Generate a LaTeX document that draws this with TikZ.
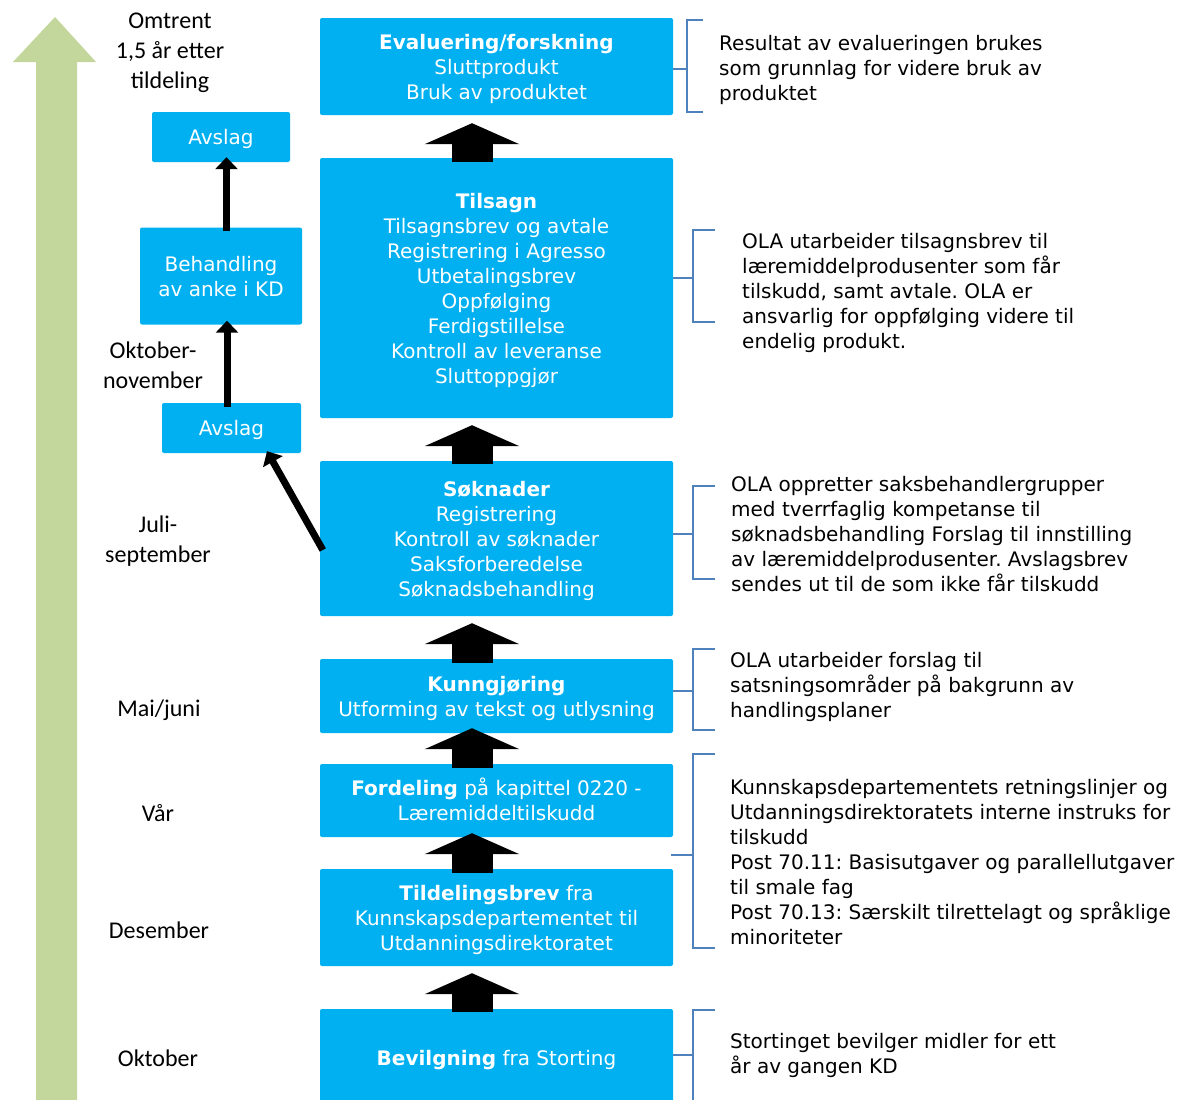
\documentclass[tikz,border=0pt]{standalone}
\usepackage{fontspec}
\setmainfont{DejaVu Sans}
\newfontfamily\calfont{Carlito}
\usetikzlibrary{arrows.meta}
\definecolor{boxblue}{HTML}{00B0F0}
\definecolor{armgreen}{HTML}{C3D69B}
\definecolor{brk}{HTML}{4F81BD}
\newcommand\tstrut{\rule{0pt}{22.5pt}}
\newcommand\bstrut{\rule[-7.5pt]{0pt}{7.5pt}}
\frenchspacing
\begin{document}
\begin{tikzpicture}[x=1pt,y=-1pt,
  bx/.style={fill=boxblue, text=white, rounded corners=2pt, inner sep=0pt, align=center,
    font=\fontsize{20}{25}\selectfont},
  mainbox/.style={bx, minimum width=353pt},
  rtext/.style={anchor=north west, align=left, inner sep=0pt, text=black, yshift=-4.5pt,
    font=\fontsize{20}{25}\selectfont, execute at begin node=\strut, execute at end node=\strut},
  ltext/.style={align=center, inner sep=0pt, text=black, yshift=-4.5pt,
    font=\calfont\fontsize{24}{30}\selectfont, execute at begin node=\strut, execute at end node=\strut},
  blockarrow/.style={draw=black, line width=41pt, -{Triangle[width=94pt,length=21pt]}},
  thinarrow/.style={draw=black, line width=7pt, -{Triangle[width=22pt,length=12pt]}},
  brack/.style={draw=brk, line width=1.3pt},
]
\useasboundingbox (0,0) rectangle (1189,1100);
\fill[white] (0,0) rectangle (1189,1100);

% green time arrow
\fill[armgreen] (36,1110) -- (36,62) -- (13,62) -- (55,17) -- (96,62) -- (77,62) -- (77,1110) -- cycle;

% main boxes
\node[mainbox, minimum height=97pt] (eva) at (496.5,66.5) {\tstrut\textbf{Evaluering/forskning}\\Sluttprodukt\\Bruk av produktet\bstrut};
\node[mainbox, minimum height=260pt] (tils) at (496.5,288) {\tstrut\textbf{Tilsagn}\\Tilsagnsbrev og avtale\\Registrering i Agresso\\Utbetalingsbrev\\Oppfølging\\Ferdigstillelse\\Kontroll av leveranse\\Sluttoppgjør\bstrut};
\node[mainbox, minimum height=155pt] (sok) at (496.5,538.5) {\tstrut\textbf{Søknader}\\Registrering\\Kontroll av søknader\\Saksforberedelse\\Søknadsbehandling\bstrut};
\node[mainbox, minimum height=74pt] (kun) at (496.5,696) {\tstrut\textbf{Kunngjøring}\\Utforming av tekst og utlysning\bstrut};
\node[mainbox, minimum height=73pt] (ford) at (496.5,800.5) {\tstrut\textbf{Fordeling} på kapittel 0220 -\\Læremiddeltilskudd\bstrut};
\node[mainbox, minimum height=97pt] (tild) at (496.5,917.5) {\tstrut\textbf{Tildelingsbrev} fra\\Kunnskapsdepartementet til\\Utdanningsdirektoratet\bstrut};
\node[mainbox, minimum height=98pt] (bev) at (496.5,1058) {\tstrut\textbf{Bevilgning} fra Storting\bstrut};

% left boxes
\node[bx, minimum width=138pt, minimum height=50pt] (avs1) at (221,137) {\tstrut Avslag\bstrut};
\node[bx, minimum width=162pt, minimum height=97pt] (beh) at (221,276) {\tstrut Behandling\\av anke i KD\bstrut};
\node[bx, minimum width=139pt, minimum height=50pt] (avs2) at (231.5,428) {\tstrut Avslag\bstrut};

% block arrows
\draw[blockarrow] ([shift={(-24.5pt,-4pt)}]tils.north) -- ([shift={(-24.5pt,-8pt)}]eva.south);
\draw[blockarrow] ([shift={(-24.5pt,-3pt)}]sok.north) -- ([shift={(-24.5pt,-7pt)}]tils.south);
\draw[blockarrow] ([shift={(-24.5pt,-4pt)}]kun.north) -- ([shift={(-24.5pt,-7pt)}]sok.south);
\draw[blockarrow] ([shift={(-24.5pt,-4pt)}]ford.north) -- ([shift={(-24.5pt,5pt)}]kun.south);
\draw[blockarrow] ([shift={(-24.5pt,-4pt)}]tild.north) -- ([shift={(-24.5pt,4pt)}]ford.south);
\draw[blockarrow] ([shift={(-24.5pt,-3pt)}]bev.north) -- ([shift={(-24.5pt,-7pt)}]tild.south);

% thin arrows
\draw[thinarrow] ([shift={(5.5pt,-4pt)}]beh.north) -- ([shift={(5.5pt,5pt)}]avs1.south);
\draw[thinarrow] ([shift={(-4.5pt,-4pt)}]avs2.north) -- ([shift={(6pt,4pt)}]beh.south);
\draw[thinarrow] ([shift={(3pt,-11.5pt)}]sok.west) -- ([shift={(35.5pt,2pt)}]avs2.south);

% brackets
\draw[brack] (eva.east |- 0,69) -- (687,69);
\draw[brack] (703,20) -- (687,20) -- (687,112) -- (703,112);
\draw[brack] (tils.east |- 0,278) -- (693,278);
\draw[brack] (715,230) -- (693,230) -- (693,322) -- (715,322);
\draw[brack] (sok.east |- 0,534) -- (693,534);
\draw[brack] (715,486) -- (693,486) -- (693,579) -- (715,579);
\draw[brack] (kun.east |- 0,691) -- (693,691);
\draw[brack] (715,649) -- (693,649) -- (693,730) -- (715,730);
\coordinate (fstem) at (671,855);
\draw[brack] (fstem) -- (693,855);
\draw[brack] (715,754) -- (693,754) -- (693,948) -- (715,948);
\draw[brack] (bev.east |- 0,1055) -- (693,1055);
\draw[brack] (715,1010) -- (693,1010) -- (693,1110);

% right texts
\node[rtext] (t1) at (719,30.5) {Resultat av evalueringen brukes\\som grunnlag for videre bruk av\\produktet};
\node[rtext] (t2) at (742,228.5) {OLA utarbeider tilsagnsbrev til\\læremiddelprodusenter som får\\tilskudd, samt avtale. OLA er\\ansvarlig for oppfølging videre til\\endelig produkt.};
\node[rtext] (t3) at (731,471.5) {OLA oppretter saksbehandlergrupper\\med tverrfaglig kompetanse til\\søknadsbehandling Forslag til innstilling\\av læremiddelprodusenter. Avslagsbrev\\sendes ut til de som ikke får tilskudd};
\node[rtext] (t4) at (730,648) {OLA utarbeider forslag til\\satsningsområder på bakgrunn av\\handlingsplaner};
\node[rtext] (t5) at (730,774.5) {Kunnskapsdepartementets retningslinjer og\\Utdanningsdirektoratets interne instruks for\\tilskudd\\Post 70.11: Basisutgaver og parallellutgaver\\til smale fag\\Post 70.13: Særskilt tilrettelagt og språklige\\minoriteter};
\node[rtext] (t6) at (730,1028.5) {Stortinget bevilger midler for ett\\år av gangen KD};

% left time labels
\node[ltext] (l1) at (170,51) {Omtrent\\1,5 år etter\\tildeling};
\node[ltext] (l2) at (153,365) {Oktober-\\november};
\node[ltext] (l3) at (158,539) {Juli-\\september};
\node[ltext] (l4) at (159,706) {Mai/juni};
\node[ltext] (l5) at (158,811) {Vår};
\node[ltext] (l6) at (159,928) {Desember};
\node[ltext] (l7) at (158,1056) {Oktober};
\end{tikzpicture}
\end{document}
